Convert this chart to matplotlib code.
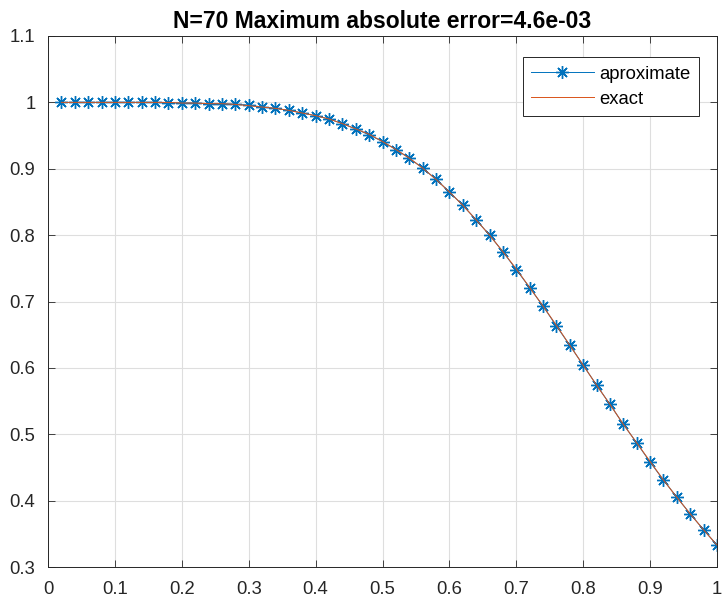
import matplotlib.pyplot as plt

plt.rcParams['font.family'] = ['Liberation Sans', 'DejaVu Sans']

# sample points and solution values
x = [0.02, 0.04, 0.06, 0.08, 0.10, 0.12, 0.14, 0.16, 0.18, 0.20,
     0.22, 0.24, 0.26, 0.28, 0.30, 0.32, 0.34, 0.36, 0.38, 0.40,
     0.42, 0.44, 0.46, 0.48, 0.50, 0.52, 0.54, 0.56, 0.58, 0.60,
     0.62, 0.64, 0.66, 0.68, 0.70, 0.72, 0.74, 0.76, 0.78, 0.80,
     0.82, 0.84, 0.86, 0.88, 0.90, 0.92, 0.94, 0.96, 0.98, 1.00]
y_approx = [1.000, 1.000, 1.000, 1.000, 1.000, 1.000, 1.000, 1.000, 0.999, 0.999,
            0.999, 0.998, 0.998, 0.997, 0.996, 0.993, 0.991, 0.988, 0.984, 0.980,
            0.975, 0.968, 0.960, 0.951, 0.941, 0.929, 0.916, 0.901, 0.884, 0.865,
            0.845, 0.823, 0.800, 0.775, 0.748, 0.721, 0.693, 0.663, 0.634, 0.604,
            0.574, 0.545, 0.515, 0.487, 0.458, 0.431, 0.405, 0.380, 0.356, 0.333]
y_exact = [1.000, 1.000, 1.000, 1.000, 1.000, 1.000, 1.000, 1.000, 1.000, 0.999,
           0.999, 0.998, 0.998, 0.997, 0.995, 0.993, 0.991, 0.988, 0.984, 0.980,
           0.975, 0.968, 0.960, 0.952, 0.941, 0.929, 0.916, 0.901, 0.884, 0.865,
           0.845, 0.823, 0.800, 0.775, 0.749, 0.721, 0.693, 0.664, 0.634, 0.604,
           0.574, 0.545, 0.515, 0.487, 0.459, 0.431, 0.405, 0.380, 0.356, 0.333]
xticks = [0, 0.1, 0.2, 0.3, 0.4, 0.5, 0.6, 0.7, 0.8, 0.9, 1]
xtick_labels = ['0', '0.1', '0.2', '0.3', '0.4', '0.5', '0.6', '0.7', '0.8', '0.9', '1']
yticks = [0.3, 0.4, 0.5, 0.6, 0.7, 0.8, 0.9, 1.0, 1.1]
ytick_labels = ['0.3', '0.4', '0.5', '0.6', '0.7', '0.8', '0.9', '1', '1.1']

fig = plt.figure(figsize=(7.22, 6.03), dpi=100)
ax = fig.add_axes([48 / 722, 1 - 567 / 603, 669 / 722, 531 / 603])

# asterisk marker: 8 arms, like the classic '*' of other plotting tools
ax.plot(x, y_approx, color='#0072BD', marker=(8, 2, 0), markersize=9.2,
        markeredgewidth=1.0, linewidth=0.7, label='aproximate')
ax.plot(x, y_exact, color='#D95319', linewidth=0.7, label='exact')

ax.set_xlim(0, 1)
ax.set_ylim(0.3, 1.1)
ax.set_xticks(xticks)
ax.set_xticklabels(xtick_labels)
ax.set_yticks(yticks)
ax.set_yticklabels(ytick_labels)
ax.grid(True, color='#dedede', linewidth=0.8)
ax.set_axisbelow(True)
ax.tick_params(direction='in', length=5, width=0.6, colors='#262626',
               labelsize=13.3, top=True, right=True)
ax.tick_params(axis='y', pad=9)
ax.tick_params(axis='x', pad=10)
for s in ax.spines.values():
    s.set_color('#262626')
    s.set_linewidth(0.7)

ax.set_title('N=70 Maximum absolute error=4.6e-03', fontsize=16.5,
             fontweight='bold', color='black', pad=6)

leg = ax.legend(loc='upper right', bbox_to_anchor=(0.973, 0.960), fontsize=13.3,
                fancybox=False, framealpha=1, edgecolor='#262626',
                borderaxespad=0, handlelength=3.4, handletextpad=0.3,
                borderpad=0.45, labelspacing=0.45)
leg.get_frame().set_linewidth(0.7)

fig.savefig('out.png', dpi=100)
